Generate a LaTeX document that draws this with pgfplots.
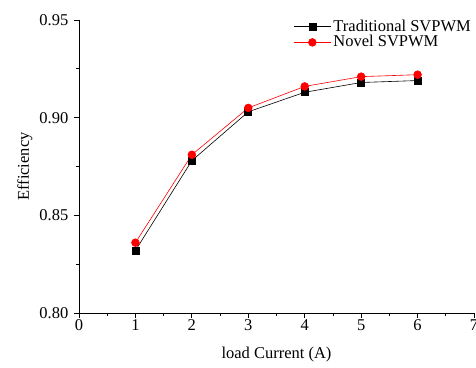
\documentclass[border=0pt]{standalone}
\usepackage{pgfplots}
\pgfplotsset{compat=1.18}
\usepackage{fontspec}
\setmainfont{Liberation Serif}
\begin{document}
\fontsize{16.5pt}{19pt}\selectfont
\begin{tikzpicture}
\begin{axis}[
  scale only axis,
  width=395pt, height=293pt,
  axis lines*=left,
  xmin=0, xmax=7, ymin=0.80, ymax=0.95,
  xtick={0,1,...,7},
  ytick={0.80,0.85,0.90,0.95},
  minor xtick={0.5,1.5,...,6.5},
  minor ytick={0.825,0.875,0.925},
  tick align=outside,
  major tick length=5pt, minor tick length=3pt,
  tick style={black, line width=0.8pt},
  axis line style={line width=0.8pt},
  /pgf/number format/assume math mode=true,
  yticklabel style={/pgf/number format/fixed, /pgf/number format/fixed zerofill, /pgf/number format/precision=2, font=\fontsize{16.5pt}{19pt}\selectfont},
  xticklabel style={font=\fontsize{16.5pt}{19pt}\selectfont, yshift=4pt},
  xlabel={load Current (A)},
  ylabel={Efficiency},
  label style={font=\fontsize{16.5pt}{19pt}\selectfont},
  ylabel style={at={(axis description cs:-0.137,0.5)}, anchor=center},
  xlabel style={at={(axis description cs:0.5,-0.143)}, anchor=center},
  legend style={draw=none, fill=none, at={(1,1)}, anchor=north east, xshift=2pt, yshift=3pt, font=\fontsize{16.5pt}{19pt}\selectfont, row sep=0.8pt, nodes={inner ysep=0.5pt}},
  legend cell align=left,
  legend image code/.code={\draw[mark repeat=2,mark phase=2,#1] plot coordinates {(0cm,0cm) (0.66cm,0cm) (1.32cm,0cm)};},
]
\addplot[black, line width=0.6pt, mark=square*, mark size=3.5pt, mark options={solid}] coordinates {
 (1,0.832) (2,0.878) (3,0.903) (4,0.913) (5,0.918) (6,0.919)
};
\addlegendentry{Traditional SVPWM}
\addplot[red, line width=0.6pt, mark=*, mark size=3.9pt, mark options={solid}] coordinates {
 (1,0.836) (2,0.881) (3,0.905) (4,0.916) (5,0.921) (6,0.922)
};
\addlegendentry{Novel SVPWM}
\end{axis}
\pgfresetboundingbox
\path[use as bounding box] ([xshift=-79pt,yshift=-55pt]current axis.south west) rectangle ([xshift=2pt,yshift=20pt]current axis.north east);
\end{tikzpicture}
\end{document}
